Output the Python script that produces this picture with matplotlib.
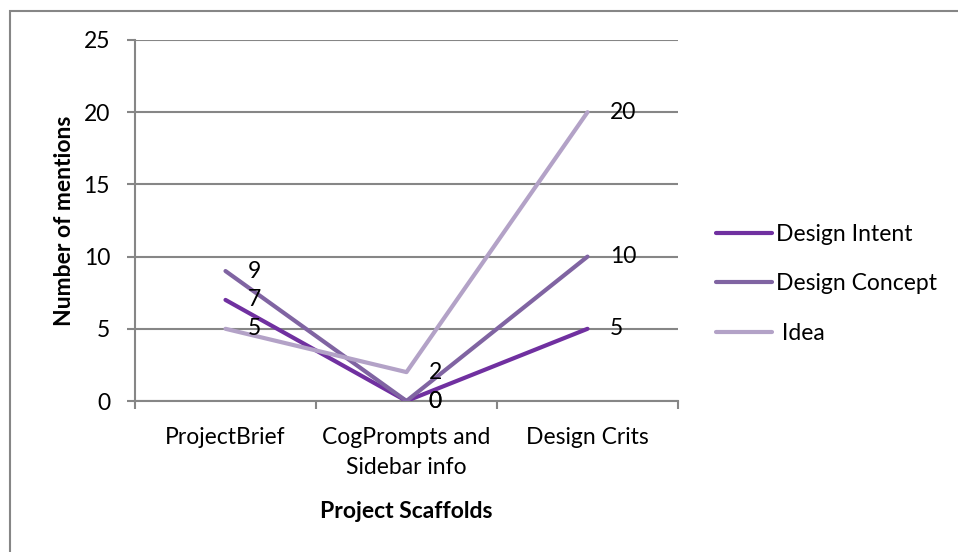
import matplotlib.pyplot as plt
from matplotlib.patches import Rectangle

# データ
categories = ["ProjectBrief", "CogPrompts and\nSidebar info", "Design Crits"]
design_intent = [7, 0, 5]
design_concept = [9, 0, 10]
idea = [5, 2, 20]
series_names = ["Design Intent", "Design Concept", " Idea"]
series_colors = ["#7030A0", "#8064A2", "#B3A2C7"]

plt.rcParams['font.family'] = ['Lato', 'DejaVu Sans']
GRID = "#868686"
FS = 16.5

fig = plt.figure(figsize=(9.58, 5.52), dpi=100)
ax = fig.add_axes([135 / 958, 1 - 401 / 552, 543 / 958, 361 / 552])

# 外枠
fig.patches.append(Rectangle((10 / 958, -0.1), 1.2, 1 - 11 / 552 + 0.1,
                             transform=fig.transFigure, fill=False,
                             edgecolor=GRID, linewidth=1.5))

x = list(range(len(categories)))
handles = []
for vals, name, col in zip([design_intent, design_concept, idea],
                           series_names, series_colors):
    h, = ax.plot(x, vals, color=col, linewidth=3, label=name,
                 solid_capstyle='round', zorder=3)
    handles.append(h)
    for xi, v in zip(x, vals):
        ax.annotate(str(v), (xi, v), xytext=(16, 0), textcoords='offset points',
                    va='center', ha='left', fontsize=FS, zorder=4)

ax.set_xlim(-0.5, 2.5)
ax.set_ylim(0, 25)
ax.set_yticks([0, 5, 10, 15, 20, 25])
ax.yaxis.grid(True, color=GRID, linewidth=1.5)
ax.set_axisbelow(True)

# x軸の目盛りは区切り位置に
ax.set_xticks([-0.5, 0.5, 1.5, 2.5])
ax.set_xticklabels([])
ax.set_xticks(x, minor=True)
ax.set_xticklabels(categories, minor=True, fontsize=FS, linespacing=1.5)
ax.tick_params(axis='x', which='minor', length=0, pad=19)
ax.tick_params(axis='x', which='major', length=6, width=1.5, color=GRID)
ax.tick_params(axis='y', length=6, width=1.5, color=GRID, labelsize=FS, pad=12)

for side in ['top', 'right']:
    ax.spines[side].set_visible(False)
for side in ['left', 'bottom']:
    ax.spines[side].set_color(GRID)
    ax.spines[side].set_linewidth(1.5)

ax.set_xlabel("Project Scaffolds", fontsize=FS, fontweight='bold', labelpad=17)
ax.set_ylabel("Number of mentions", fontsize=FS, fontweight='bold', labelpad=6)

fig.legend(handles=handles, loc='center left', bbox_to_anchor=(695 / 958, 1 - 284 / 552),
           frameon=False, fontsize=FS, handlelength=2.45, handletextpad=0.2,
           labelspacing=1.25)

fig.savefig("out.png", dpi=100)
